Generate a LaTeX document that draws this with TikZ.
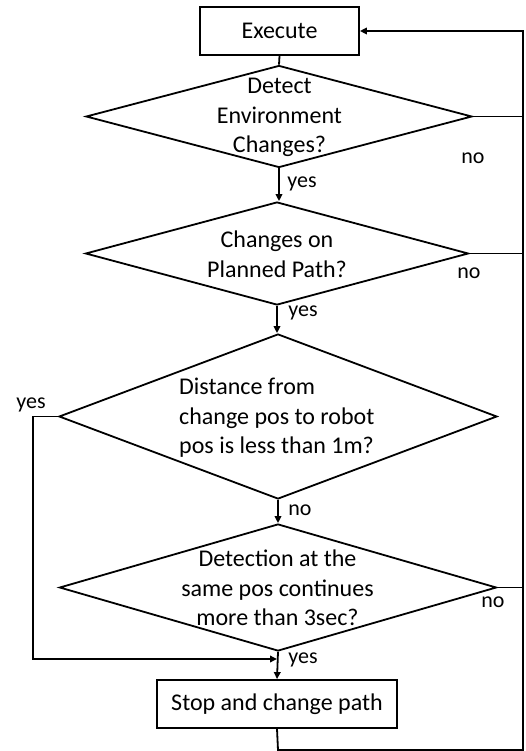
\documentclass[tikz,border=0pt]{standalone}
\usepackage{fontspec}
\setmainfont{Carlito}
\usetikzlibrary{shapes.geometric,arrows.meta,calc}
\tikzset{
  line/.style={line width=1.8pt},
  arr/.style={line width=1.8pt,-{Triangle[length=7pt,width=6.5pt]}},
  boxnode/.style={draw,line width=1.8pt,rectangle,inner sep=0pt},
  dia/.style={draw,line width=1.8pt,diamond,inner sep=0pt},
  txt/.style={font=\fontsize{24}{29.5}\selectfont,inner sep=0pt},
  lab/.style={font=\fontsize{22}{26}\selectfont,inner sep=0pt},
}
\begin{document}
\begin{tikzpicture}[x=1pt,y=-1pt]
\useasboundingbox (0,0) rectangle (526,751);
\fill[white] (0,0) rectangle (526,751);
% nodes
\node[boxnode,minimum width=159pt,minimum height=48pt] (exec) at (279.5,31) {};
\node[txt] (exect) at (exec.center) {Execute};
\node[dia,minimum width=386pt,minimum height=102pt] (d1) at (279,116.5) {};
\node[txt,align=center] (d1t) at (279.5,117.5) {Detect\\Environment\\Changes?};
\node[dia,minimum width=383pt,minimum height=103pt] (d2) at (277,253.5) {};
\node[txt,align=center] (d2t) at (277,254.5) {Changes on\\Planned Path?};
\node[dia,minimum width=438pt,minimum height=165pt] (d3) at (278,416.5) {};
\node[txt,align=left,anchor=west] (d3t) at (179,418) {Distance from\\change pos to robot\\pos is less than 1m?};
\node[dia,minimum width=437pt,minimum height=127pt] (d4) at (278,587.5) {};
\node[txt,align=center] (d4t) at (277.5,588) {Detection at the\\same pos continues\\more than 3sec?};
\node[boxnode,minimum width=240pt,minimum height=48pt] (stop) at (277,704) {};
\node[txt] (stopt) at (stop.center) {Stop and change path};
% coordinates
\coordinate (rx) at (523,0);
\coordinate (lx) at (33,0);
\coordinate (join) at (278,659);
\coordinate (bot) at (278,750);
% labels
\node[lab] (n1) at (473,158) {no};
\node[lab] (y1) at (302,184) {yes};
\node[lab] (n2) at (469,273) {no};
\node[lab] (y2) at (303,313) {yes};
\node[lab] (y3) at (31,405) {yes};
\node[lab] (n3) at (300,510) {no};
\node[lab] (n4) at (493,602) {no};
\node[lab] (y4) at (303,660) {yes};
% connectors
\draw[line] (exec.south) -- (d1.north);
\draw[arr] (d1.south) -- (d1.south |- d2.north);
\draw[arr] (d2.south) -- (d2.south |- d3.north);
\draw[arr] (d3.south) -- (d4.north);
\draw[arr] (d4.south) -- (stop.north);
\draw[line] (d1.east) -- (d1.east -| rx);
\draw[line] (d2.east) -- (d2.east -| rx);
\draw[line] (d4.east) -- (d4.east -| rx);
\draw[arr] (d3.west) -- (d3.west -| lx) -- (join -| lx) -- ($(join)+(-1,0)$);
\draw[arr] (stop.south) -- (bot) -- (bot -| rx) -- (exec.east -| rx) -- (exec.east);
\end{tikzpicture}
\end{document}
